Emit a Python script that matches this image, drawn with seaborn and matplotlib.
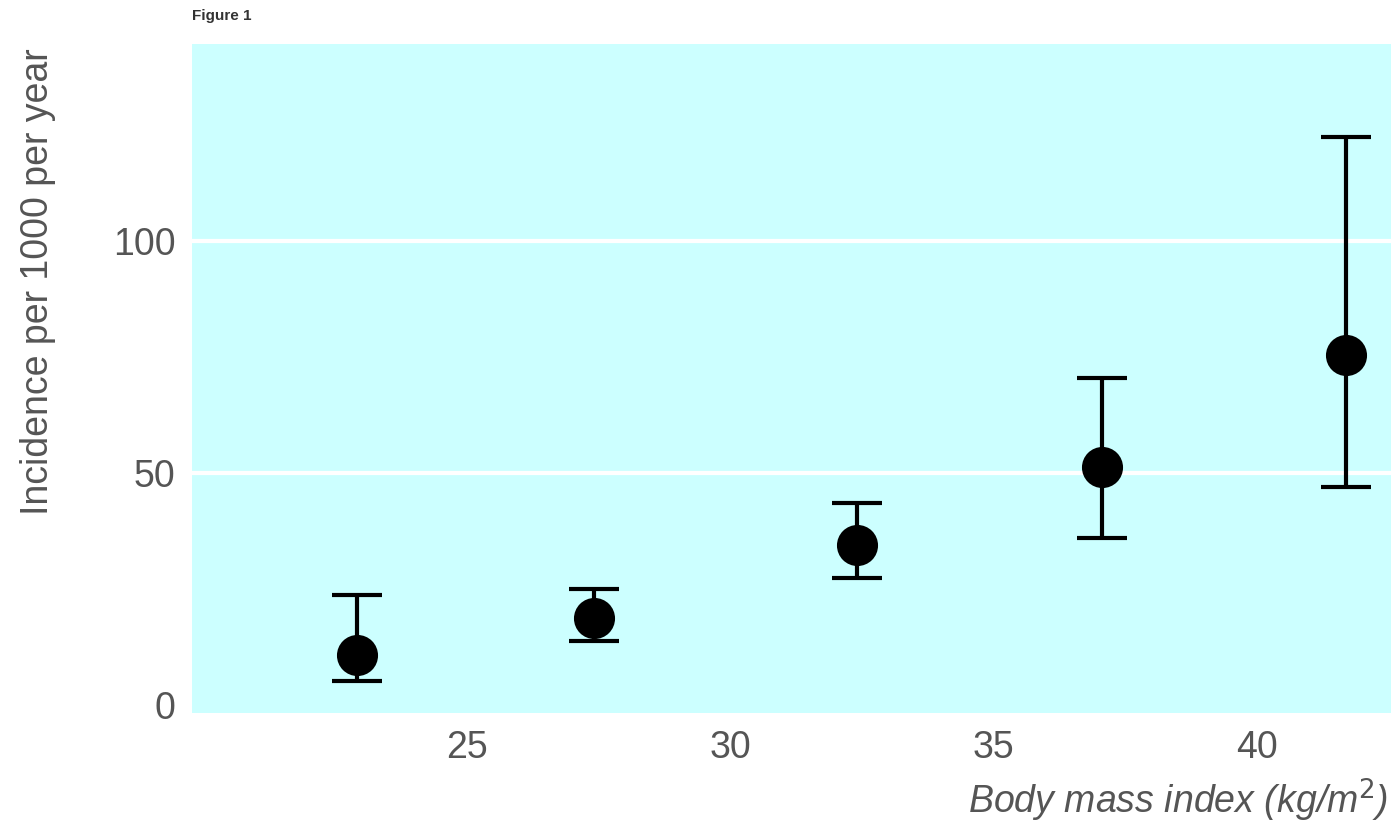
import numpy as np
import pandas as pd
import matplotlib
matplotlib.use("Agg")
import matplotlib.pyplot as plt
import seaborn as sns

bmi = [22.9, 27.4, 32.4, 37.05, 41.7]
rate = [10.8, 18.8, 34.5, 51.3, 75.4]
lower = [5.2, 13.8, 27.4, 36.0, 47.0]
upper = [23.7, 25.0, 43.5, 70.5, 122.4]

yticks = [0, 50, 100]
gridlines = [50, 100]
xticks = [25, 30, 35, 40]

sns.set_style("white")
plt.rcParams['font.family'] = ['Liberation Sans', 'DejaVu Sans']

df = pd.DataFrame({'bmi': bmi, 'rate': rate})

fig = plt.figure(figsize=(13.91, 8.26), dpi=100)
ax = fig.add_axes([192 / 1391, 1 - 713 / 826, 1199 / 1391, 669 / 826])
ax.set_facecolor('#ccffff')

for g in gridlines:
    ax.axhline(g, color='white', linewidth=3, zorder=1)

ax.errorbar(bmi, rate,
            yerr=[np.array(rate) - np.array(lower), np.array(upper) - np.array(rate)],
            fmt='none', ecolor='black', elinewidth=3, capsize=18, capthick=3, zorder=3)
sns.scatterplot(data=df, x='bmi', y='rate', ax=ax, color='black', marker='o',
                s=750, edgecolor='black', zorder=4, legend=False)

ax.set_xlim(19.77, 42.55)
ax.set_ylim(-1.7, 142.5)
ax.set_xticks(xticks)
ax.set_yticks(yticks)
ax.grid(False)
for s in ax.spines.values():
    s.set_visible(False)
ax.tick_params(axis='both', length=0, labelsize=27, colors='#555555', pad=12)
ax.set_xlabel('')
ax.set_ylabel('')

fig.text(1388 / 1391, 1 - 800 / 826, 'Body mass index (kg/m$^2$)', ha='right', va='center',
         fontsize=27, style='italic', color='#555555')
fig.text(38 / 1391, 1 - 48 / 826, 'Incidence per 1000 per year', rotation=90, ha='center', va='top',
         fontsize=27, color='#555555')
fig.text(192 / 1391, 1 - 16 / 826, 'Figure 1', ha='left', va='center', fontsize=11,
         color='#333333', weight='bold')

fig.savefig('out.png', dpi=100)
